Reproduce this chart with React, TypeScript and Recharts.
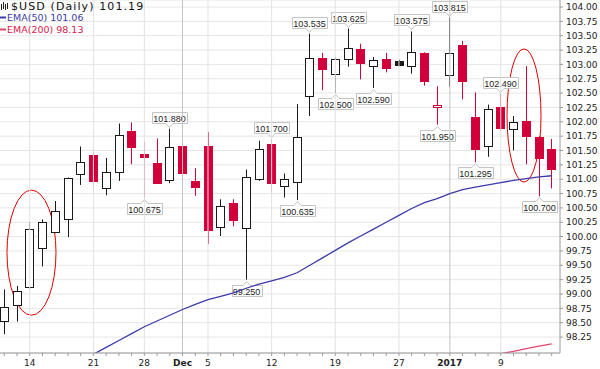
import React from 'react';
import {
  ComposedChart,
  Bar,
  Line,
  XAxis,
  YAxis,
  CartesianGrid,
  ReferenceLine,
  ReferenceArea,
} from 'recharts';

// trading days shown on the chart
const dates = [
  '11/10', '11/11', '11/14', '11/15', '11/16', '11/17', '11/18', '11/21', '11/22', '11/23', '11/25',
  '11/28', '11/29', '11/30', '12/01', '12/02', '12/05', '12/06', '12/07', '12/08', '12/09', '12/12',
  '12/13', '12/14', '12/15', '12/16', '12/19', '12/20', '12/21', '12/22', '12/23', '12/27', '12/28',
  '12/29', '12/30', '01/03', '01/04', '01/05', '01/06', '01/09', '01/10', '01/11', '01/12', '01/13',
];

const opens = [
  98.53, 98.82, 99.13, 99.81, 100.08, 100.30, 101.09, 101.42, 100.84, 101.12, 101.84,
  101.44, 101.29, 100.99, 101.58, 100.97, 101.57, 100.18, 100.58, 100.14, 101.00, 101.61,
  100.87, 100.96, 102.44, 103.12, 102.82, 103.09, 103.26, 102.97, 103.09, 103.06, 102.98,
  103.19, 102.25, 102.82, 103.34, 102.09, 101.57, 102.26, 101.87, 102.02, 101.74, 101.53,
];

const highs = [
  99.08, 99.14, 100.25, 100.30, 100.62, 101.03, 101.57, 101.52, 101.37, 101.97, 101.99,
  101.65, 101.71, 101.88, 101.64, 101.19, 101.82, 100.65, 100.65, 101.17, 101.67, 101.70,
  101.10, 102.31, 103.535, 103.20, 103.12, 103.625, 103.36, 103.13, 103.20, 103.08, 103.575,
  103.21, 102.62, 103.815, 103.41, 102.51, 102.30, 102.49, 102.10, 102.97, 101.75, 101.70,
];

const lows = [
  98.30, 98.52, 99.09, 99.48, 100.06, 99.99, 100.90, 100.82, 100.72, 100.97, 101.26,
  100.675, 100.93, 100.93, 100.96, 100.71, 99.87, 100.01, 100.18, 99.25, 100.97, 100.76,
  100.68, 100.635, 102.10, 102.55, 102.50, 102.96, 102.74, 102.59, 102.86, 102.97, 102.84,
  102.63, 101.95, 102.61, 102.39, 101.295, 101.39, 101.86, 101.50, 101.26, 100.70, 100.84,
];

const closes = [
  98.77, 99.06, 100.14, 100.26, 100.45, 101.02, 101.30, 100.96, 101.12, 101.77, 101.56,
  101.38, 100.95, 101.56, 101.11, 100.86, 100.11, 100.54, 100.28, 101.03, 101.52, 100.93,
  101.00, 101.74, 103.11, 102.92, 103.09, 103.28, 103.02, 103.08, 102.93, 102.99, 103.22,
  102.71, 102.29, 103.20, 102.71, 101.54, 102.22, 101.90, 102.00, 101.75, 101.38, 101.19,
];

const ema50 = [
  97.03, 97.15, 97.28, 97.40, 97.54, 97.68, 97.82, 97.95, 98.07, 98.19, 98.31,
  98.43, 98.53, 98.63, 98.73, 98.82, 98.90, 98.96, 99.02, 99.10, 99.17, 99.23,
  99.29, 99.37, 99.50, 99.63, 99.76, 99.89, 100.01, 100.13, 100.25, 100.37, 100.49,
  100.59, 100.66, 100.75, 100.82, 100.86, 100.90, 100.94, 100.98, 101.01, 101.04, 101.06,
];

// EMA(200) only enters the visible range at the very end
const ema200Start = '01/04';
const ema200Tail = [97.84, 97.88, 97.92, 97.96, 98.00, 98.05, 98.09, 98.13];

const yTicks = [
  98.25, 98.5, 98.75, 99, 99.25, 99.5, 99.75, 100, 100.25, 100.5, 100.75, 101,
  101.25, 101.5, 101.75, 102, 102.25, 102.5, 102.75, 103, 103.25, 103.5, 103.75, 104,
];

const xTickDates = ['11/14', '11/21', '11/28', '12/01', '12/05', '12/12', '12/19', '12/27', '01/03', '01/09'];
const xTickText = ['14', '21', '28', 'Dec', '5', '12', '19', '27', '2017', '9'];
const boldTicks = ['Dec', '2017'];

// high / low call-outs
const calloutDates = ['11/28', '11/30', '12/08', '12/12', '12/14', '12/15', '12/19', '12/20', '12/22', '12/28', '12/30', '01/03', '01/05', '01/09', '01/12'];
const calloutSides = ['low', 'high', 'low', 'high', 'low', 'high', 'low', 'high', 'low', 'high', 'low', 'high', 'low', 'high', 'low'];

// hand drawn ellipses (date index range, price range)
const ellipses = [
  { x1: 0.21, x2: 4.06, y1: 98.63, y2: 100.81 },
  { x1: 39.49, x2: 42.16, y1: 100.95, y2: 103.27 },
];

const RED = '#d1003a';
const BLACK = '#1a1a1a';
const BLUE = '#3b3ba8';
const PINK = '#e2456f';
const FONT = '"DejaVu Sans", Verdana, sans-serif';

const e200Offset = dates.indexOf(ema200Start);

const data = dates.map((d, i) => {
  const c = calloutDates.indexOf(d);
  return {
    idx: i,
    date: d,
    open: opens[i],
    high: highs[i],
    low: lows[i],
    close: closes[i],
    prevClose: i > 0 ? closes[i - 1] : null,
    range: [lows[i], highs[i]],
    ema50: ema50[i],
    ema200: i >= e200Offset ? ema200Tail[i - e200Offset] : null,
    callout: c >= 0 ? calloutSides[c] : null,
  };
});

const Candle = (props: any) => {
  const { x, y, width, height, payload } = props;
  if (x == null || y == null) return null;
  const top = Math.min(y, y + height);
  const h = Math.abs(height);
  const { open, close, high, low, prevClose, callout } = payload;
  const k = h / (high - low);
  const py = (v: number) => top + (high - v) * k;
  const cx = Math.round(x + width / 2) + 0.5;
  const hollow = close >= open;
  const color = prevClose != null && close < prevClose ? RED : BLACK;
  const yo = py(open);
  const yc = py(close);
  const bt = Math.round(Math.min(yo, yc)) + 0.5;
  const bh = Math.max(1, Math.round(Math.abs(yo - yc)));

  let label = null;
  if (callout) {
    const txt = (callout === 'high' ? high : low).toFixed(3);
    const w = txt.length * 5;
    const bx = Math.round(cx - w / 2) + 0.5;
    let path;
    let ty;
    if (callout === 'high') {
      const tip = Math.round(py(high)) - 1.5;
      const bb = tip - 4;
      const tt = bb - 11;
      path = `M${bx},${tt} H${bx + w} V${bb} H${cx + 3.5} L${cx},${tip} L${cx - 3.5},${bb} H${bx} Z`;
      ty = tt + 9;
    } else {
      const tip = Math.round(py(low)) + 1.5;
      const tt = tip + 4;
      const bb = tt + 11;
      path = `M${bx},${bb} H${bx + w} V${tt} H${cx + 3.5} L${cx},${tip} L${cx - 3.5},${tt} H${bx} Z`;
      ty = tt + 9;
    }
    label = (
      <g>
        <path d={path} fill="#ffffff" stroke="#c4c4c4" strokeWidth={1} />
        <text x={cx} y={ty} textAnchor="middle" fontSize={9} fontFamily='"Liberation Sans", Arial, sans-serif' fill="#222">
          {txt}
        </text>
      </g>
    );
  }

  return (
    <g>
      <line x1={cx} x2={cx} y1={py(high)} y2={py(low)} stroke={color} strokeWidth={1} />
      <rect x={cx - 4} y={bt} width={8} height={bh} fill={hollow ? '#ffffff' : color} stroke={color} strokeWidth={1} />
      {label}
    </g>
  );
};

const XTick = (props: any) => {
  const { x, y, payload } = props;
  const t = xTickDates.indexOf(dates[payload.value]);
  if (t < 0) return <g />;
  const txt = xTickText[t];
  return (
    <text x={x} y={y + 8} textAnchor="middle" fontSize={9} fontFamily={FONT} fill="#222" fontWeight={boldTicks.includes(txt) ? 'bold' : 'normal'}>
      {txt}
    </text>
  );
};

const EllipseShape = (props: any) => {
  const { x, y, width, height } = props;
  return (
    <ellipse cx={x + width / 2} cy={y + height / 2} rx={width / 2} ry={height / 2} fill="none" stroke="#e00000" strokeWidth={1} />
  );
};

const App: React.FC = () => {
  const last = data[data.length - 1];
  return (
    <div style={{ position: 'relative', width: 600, height: 369, background: '#fff' }}>
      <style>{'body{margin:0}'}</style>
      <ComposedChart width={600} height={369} data={data} margin={{ top: 0, right: 0, bottom: 0, left: 0 }}>
        <CartesianGrid vertical={false} stroke="#e6e6e6" />
        {xTickDates.map((d, i) => (
          <ReferenceLine
            key={d}
            x={dates.indexOf(d)}
            stroke={boldTicks.includes(xTickText[i]) ? '#c4c4c4' : '#e2e2e2'}
          />
        ))}
        <XAxis
          type="number"
          dataKey="idx"
          domain={[-0.338, 43.652]}
          allowDataOverflow
          ticks={data.map((d) => d.idx)}
          interval={0}
          tick={<XTick />}
          tickSize={3}
          height={16}
          stroke="#9a9a9a"
        />
        <YAxis
          orientation="right"
          domain={[97.972, 104.122]}
          allowDataOverflow
          ticks={yTicks}
          interval={0}
          width={40}
          tickSize={3}
          tickMargin={3}
          stroke="#9a9a9a"
          tickFormatter={(v: number) => v.toFixed(2)}
          tick={{ fontSize: 9, fontFamily: FONT, fill: '#222' }}
        />
        <Line type="linear" dataKey="ema50" stroke={BLUE} strokeWidth={1.3} dot={false} activeDot={false} isAnimationActive={false} />
        <Line type="linear" dataKey="ema200" stroke={PINK} strokeWidth={1.3} dot={false} activeDot={false} isAnimationActive={false} />
        <Bar dataKey="range" barSize={10} shape={<Candle />} isAnimationActive={false} />
        {ellipses.map((e, i) => (
          <ReferenceArea key={i} x1={e.x1} x2={e.x2} y1={e.y1} y2={e.y2} shape={<EllipseShape />} />
        ))}
      </ComposedChart>
      <svg width={200} height={40} style={{ position: 'absolute', left: 0, top: 0, pointerEvents: 'none' }}>
        <g fill="#222">
          <rect x={1} y={4} width={1} height={6} />
          <rect x={3} y={2} width={1} height={7} />
          <rect x={5} y={4} width={1} height={6} />
          <rect x={7} y={3} width={1} height={6} />
        </g>
        <text x={11} y={9.5} fontSize={11} letterSpacing={1.1} fontFamily={FONT} fill="#111">
          {`$USD (Daily) ${last.close.toFixed(2)}`}
        </text>
        <line x1={0} x2={6} y1={17.5} y2={17.5} stroke={BLUE} strokeWidth={2} />
        <text x={7} y={21} fontSize={9.5} fontFamily={FONT} fill={BLUE}>
          {`EMA(50) ${last.ema50.toFixed(2)}`}
        </text>
        <line x1={0} x2={6} y1={29.5} y2={29.5} stroke={PINK} strokeWidth={2} />
        <text x={7} y={33} fontSize={9.5} fontFamily={FONT} fill="#d8204c">
          {`EMA(200) ${(last.ema200 as number).toFixed(2)}`}
        </text>
      </svg>
    </div>
  );
};

export default App;
